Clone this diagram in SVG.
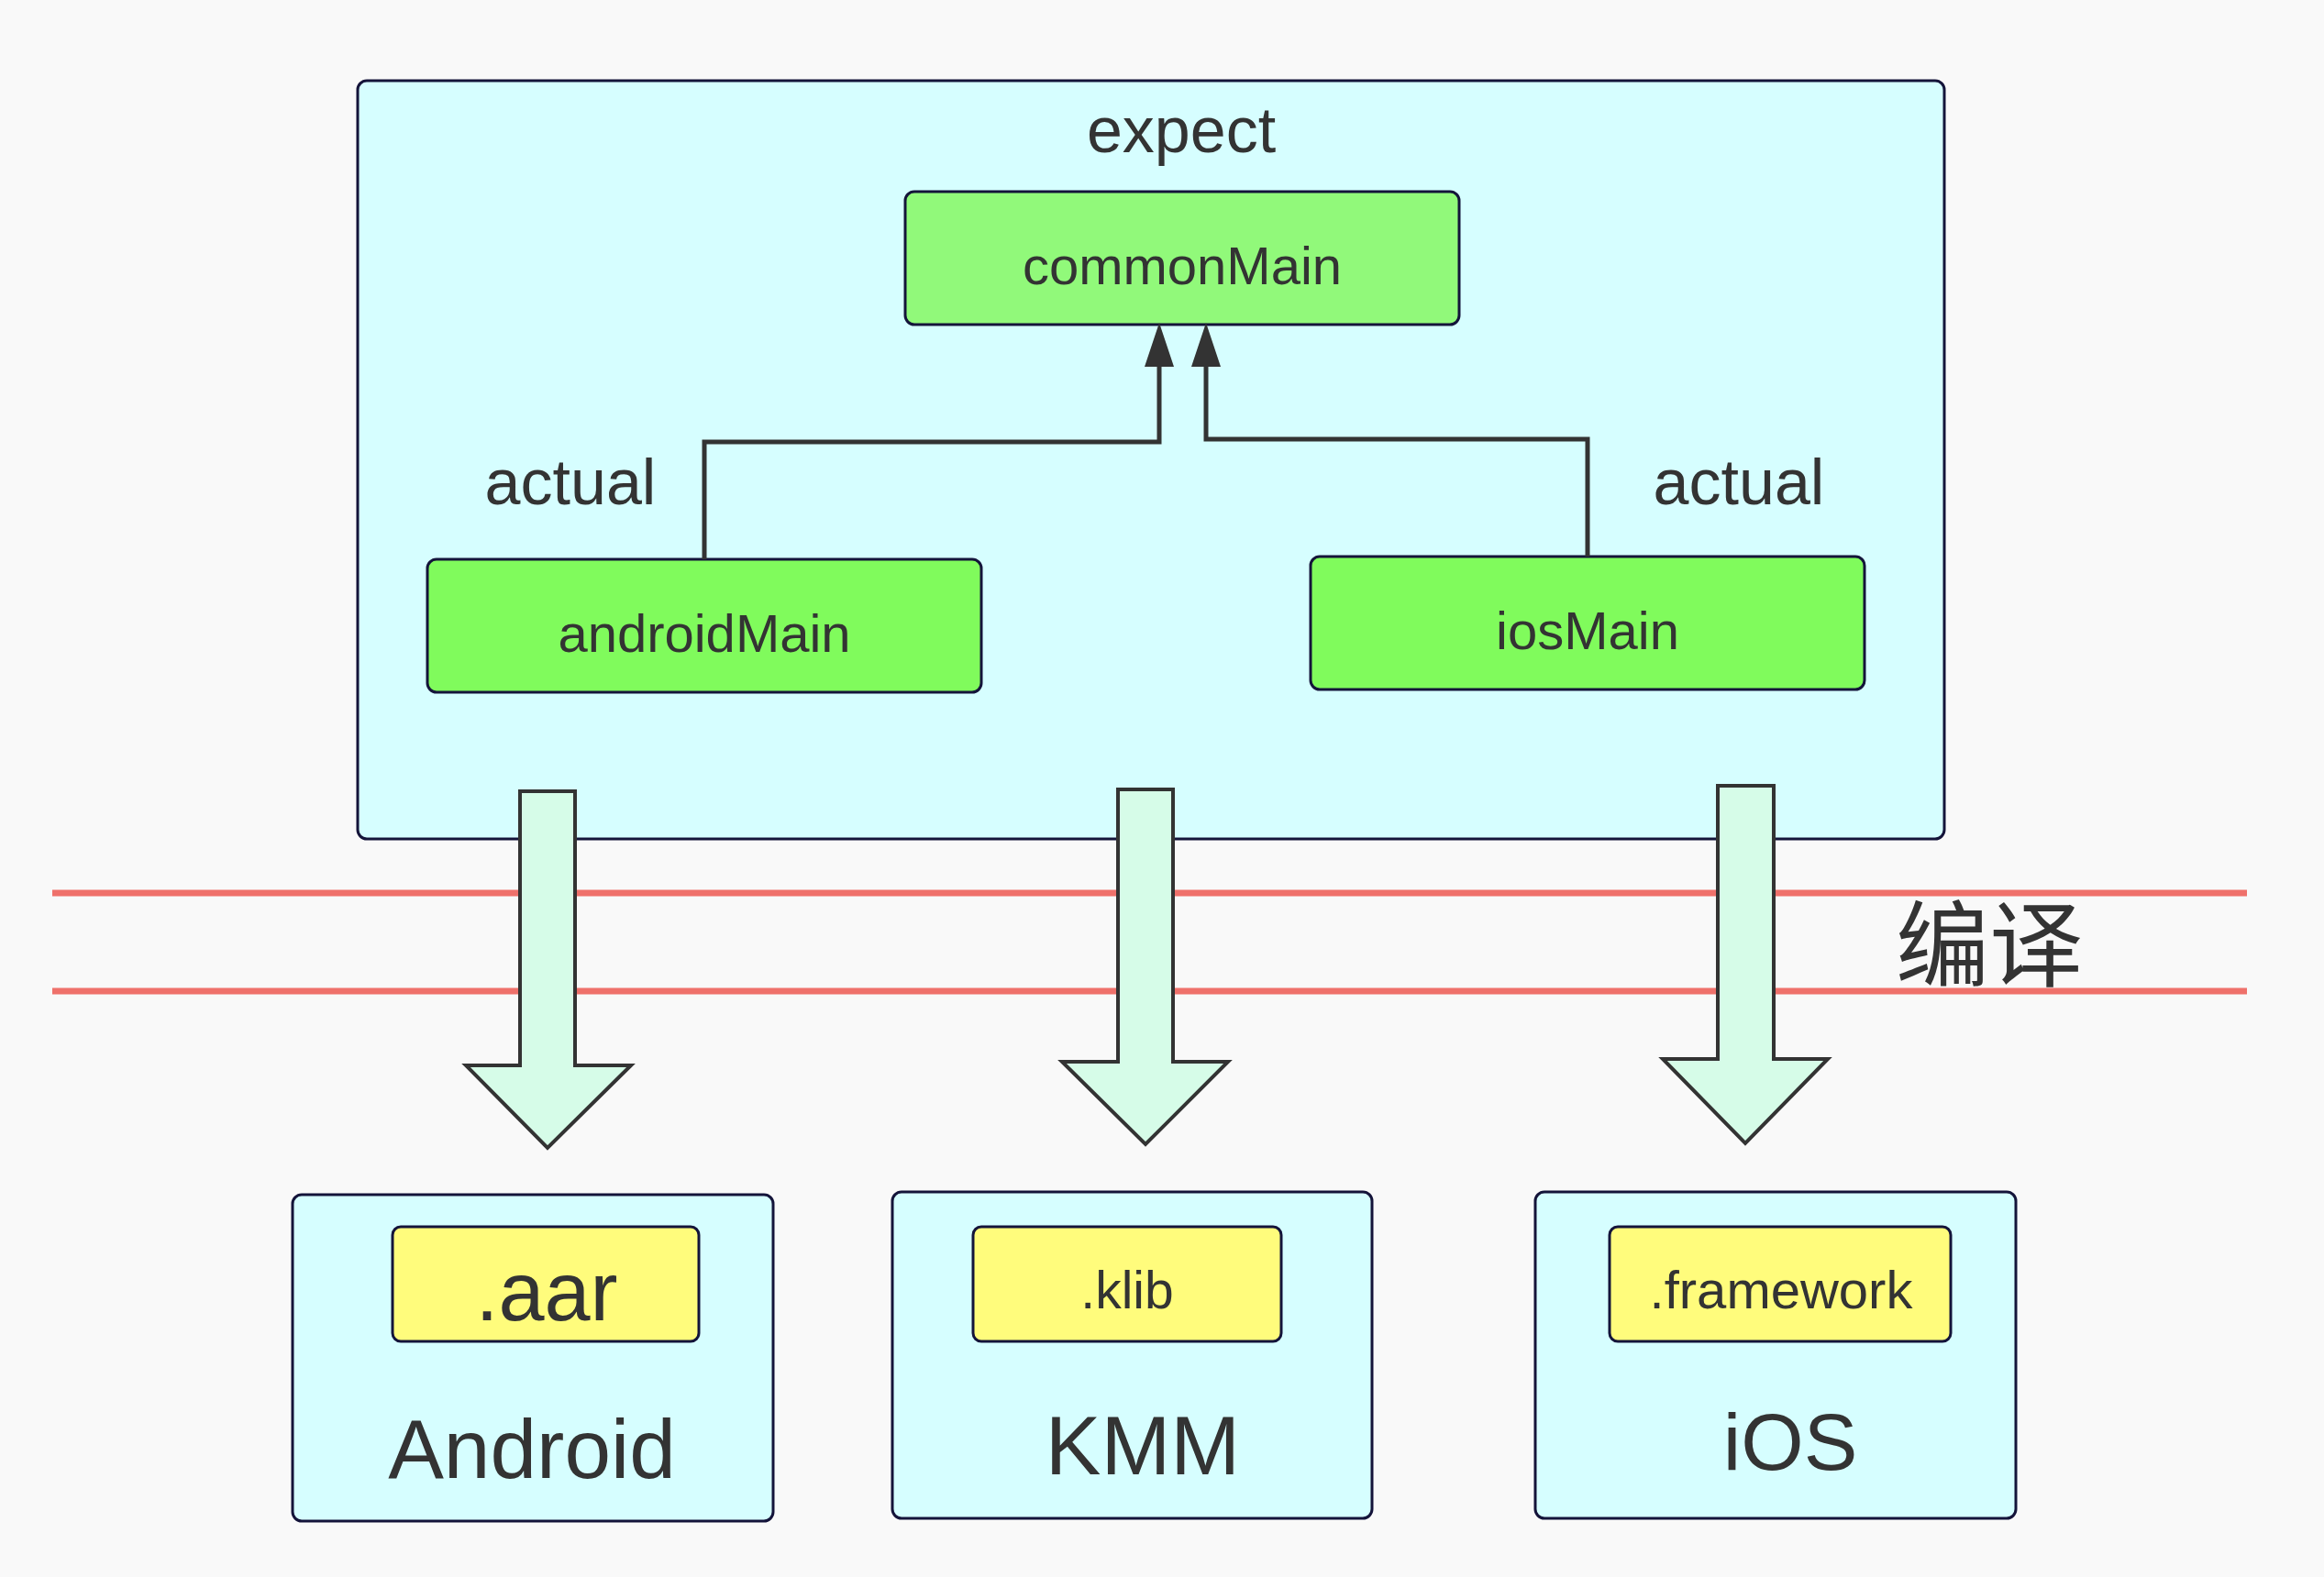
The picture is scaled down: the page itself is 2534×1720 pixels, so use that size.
<svg xmlns="http://www.w3.org/2000/svg" width="2534" height="1720" viewBox="0 0 2534 1720">
<style>
.t{font-family:"Liberation Sans",Arial,sans-serif;fill:#333333;text-anchor:middle}
.cont{fill:#d6feff;stroke:#14143a;stroke-width:3}
.green{stroke:#14143a;stroke-width:3}
.yellow{fill:#fffc7c;stroke:#14143a;stroke-width:3}
.conn{fill:none;stroke:#333333;stroke-width:5}
.big{fill:#d6fce8;stroke:#333333;stroke-width:4;stroke-linejoin:miter}
.red{stroke:#ef716b;stroke-width:7}
</style>
<defs>
<marker id="ah" viewBox="0 0 48 32" markerWidth="48" markerHeight="32" refX="0" refY="16" orient="auto" markerUnits="userSpaceOnUse">
<path d="M0,0 L48,16 L0,32 z" fill="#333333"/>
</marker>
</defs>
<rect x="0" y="0" width="2534" height="1720" fill="#f9f9f9"/>
<g id="shared">
<rect class="cont" x="390" y="88" width="1730" height="827" rx="10"/>
<text class="t" x="1288" y="166" font-size="70">expect</text>
</g>
<g id="commonMain">
<rect class="green" x="987" y="209" width="604" height="145" rx="10" fill="#91f97a"/>
<text class="t" x="1289" y="310" font-size="58">commonMain</text>
</g>
<g id="androidMain">
<rect class="green" x="466" y="610" width="604" height="145" rx="10" fill="#80fb5c"/>
<text class="t" x="768" y="711" font-size="58">androidMain</text>
</g>
<g id="iosMain">
<rect class="green" x="1429" y="607" width="604" height="145" rx="10" fill="#80fb5c"/>
<text class="t" x="1731" y="708" font-size="58">iosMain</text>
</g>
<g id="labels">
<text class="t" x="622" y="550" font-size="70">actual</text>
<text class="t" x="1896" y="550" font-size="70">actual</text>
</g>
<g id="compile-band">
<line class="red" x1="57" y1="974" x2="2450" y2="974"/>
<line class="red" x1="57" y1="1081" x2="2450" y2="1081"/>
<text x="2169" y="1068" font-size="102" fill="#333333" text-anchor="middle" font-family="'Noto Sans CJK SC','Noto Sans',sans-serif">编译</text>
</g>
<g id="connectors">
<path class="conn" d="M768,610 V482 H1264 V400" marker-end="url(#ah)"/>
<path class="conn" d="M1731,607 V479 H1315 V400" marker-end="url(#ah)"/>
<polygon class="big" points="567,863 627,863 627,1162 688,1162 597,1252 508,1162 567,1162"/>
<polygon class="big" points="1219,861 1279,861 1279,1158 1339,1158 1249,1248 1158,1158 1219,1158"/>
<polygon class="big" points="1873,857 1934,857 1934,1155 1993,1155 1903,1247 1813,1155 1873,1155"/>
</g>
<g id="android">
<rect class="cont" x="319" y="1303" width="524" height="356" rx="10"/>
<rect class="yellow" x="428" y="1338" width="334" height="125" rx="9"/>
<text class="t" x="596" y="1440" font-size="90">.aar</text>
<text class="t" x="580" y="1612" font-size="91">Android</text>
</g>
<g id="kmm">
<rect class="cont" x="973" y="1300" width="523" height="356" rx="10"/>
<rect class="yellow" x="1061" y="1338" width="336" height="125" rx="9"/>
<text class="t" x="1229" y="1427" font-size="57">.klib</text>
<text class="t" x="1246" y="1608" font-size="91">KMM</text>
</g>
<g id="ios">
<rect class="cont" x="1674" y="1300" width="524" height="356" rx="10"/>
<rect class="yellow" x="1755" y="1338" width="372" height="125" rx="9"/>
<text class="t" x="1942" y="1427" font-size="58">.framework</text>
<text class="t" x="1952" y="1603" font-size="88">iOS</text>
</g>
</svg>
